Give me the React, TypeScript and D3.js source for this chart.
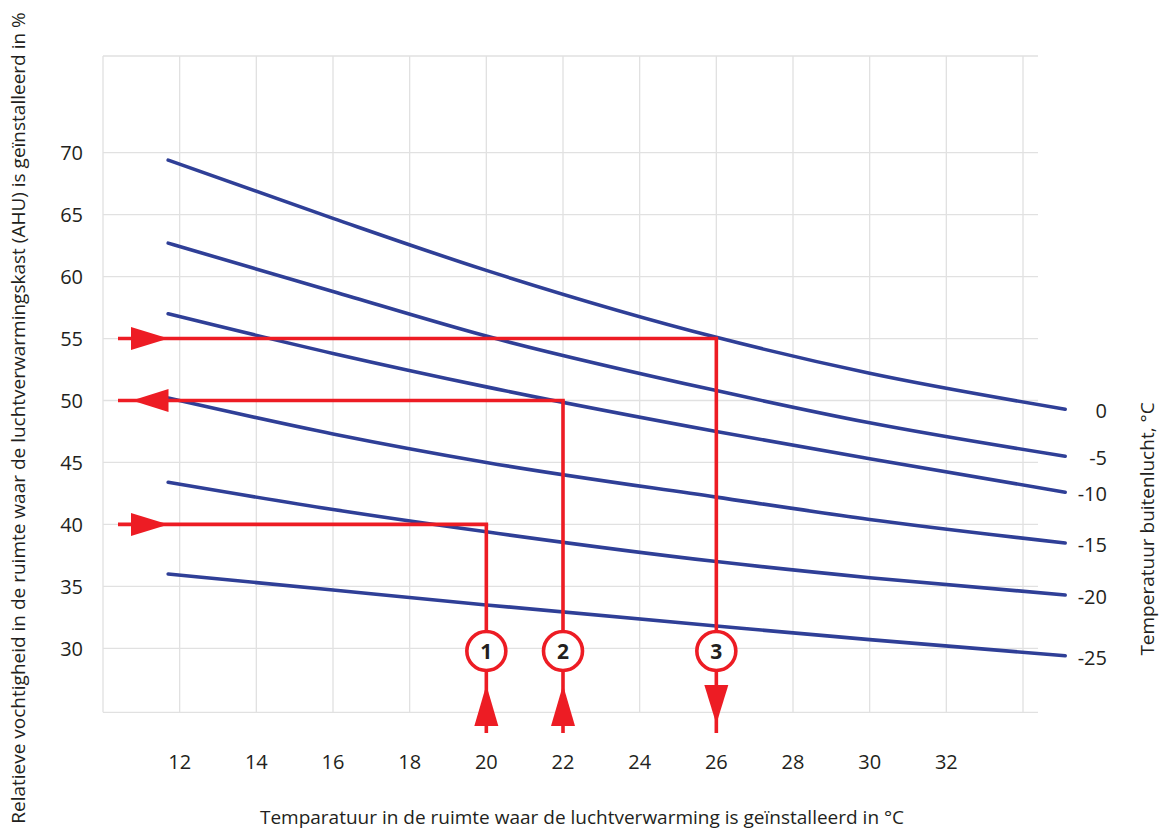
import React from "react";
import * as d3 from "d3";

const W = 1162;
const H = 832;

// Room temperature sample points (°C)
const roomTemps = [11.7, 16, 20, 26, 30, 35.1];
// Outside temperature curves (°C) and their relative humidity values (%)
const outsideTemps = [0, -5, -10, -15, -20, -25];
const rhOut0 = [69.4, 64.7, 60.5, 55.1, 52.2, 49.3];
const rhOutM5 = [62.7, 58.8, 55.2, 50.8, 48.2, 45.5];
const rhOutM10 = [57.0, 53.8, 51.1, 47.5, 45.3, 42.6];
const rhOutM15 = [50.2, 47.3, 45.0, 42.2, 40.4, 38.5];
const rhOutM20 = [43.4, 41.2, 39.4, 37.0, 35.7, 34.3];
const rhOutM25 = [36.0, 34.7, 33.5, 31.8, 30.7, 29.4];
const curves = [rhOut0, rhOutM5, rhOutM10, rhOutM15, rhOutM20, rhOutM25];

const xTicks = [12, 14, 16, 18, 20, 22, 24, 26, 28, 30, 32];
const xGrid = [10, 12, 14, 16, 18, 20, 22, 24, 26, 28, 30, 32, 34];
const yTicks = [30, 35, 40, 45, 50, 55, 60, 65, 70];

// Example routes: room temperature, humidity reached, direction
const routeLabels = ["1", "2", "3"];
const routeRoomTemps = [20, 22, 26];
const routeRH = [40, 50, 55];
const routeUp = [true, true, false];
const horizArrowRight = [true, false, true];

const xLabel = "Temparatuur in de ruimte waar de luchtverwarming is geïnstalleerd in °C";
const yLabel = "Relatieve vochtigheid in de ruimte waar de luchtverwarmingskast (AHU) is geïnstalleerd in %";
const rightLabel = "Temperatuur buitenlucht, °C";

const BLUE = "#2f3f97";
const RED = "#ed1c24";
const GRID = "#e1e1e1";
const TEXT = "#231f20";
const FONT = "'Open Sans', 'Noto Sans', sans-serif";

export default function App() {
  const x = d3.scaleLinear().domain([10, 34]).range([103, 1023]);
  const y = d3.scaleLinear().domain([30, 70]).range([648.3, 152.7]);
  const gridTop = 56;
  const gridBottom = 712.3;
  const gridRight = 1038;

  const line = d3
    .line<number>()
    .x((_, i) => x(roomTemps[i]))
    .y((d) => y(d))
    .curve(d3.curveMonotoneX);

  const circleY = 651;
  const bottomY = 733;
  const lineStartX = 118;

  return (
    <div style={{ position: "absolute", left: 0, top: 0 }}>
      <svg width={W} height={H} style={{ display: "block", background: "#fff" }}>
        {/* grid */}
        <g stroke={GRID} strokeWidth={1.3} fill="none">
          {xGrid.map((v) => (
            <line key={"gx" + v} x1={x(v)} x2={x(v)} y1={gridTop} y2={gridBottom} />
          ))}
          {yTicks.map((v) => (
            <line key={"gy" + v} x1={x(10)} x2={gridRight} y1={y(v)} y2={y(v)} />
          ))}
          <line x1={x(10)} x2={gridRight} y1={gridTop} y2={gridTop} />
          <line x1={x(10)} x2={gridRight} y1={gridBottom} y2={gridBottom} />
        </g>

        {/* y tick labels */}
        <g fontFamily={FONT} fontSize={20} fill={TEXT} textAnchor="end">
          {yTicks.map((v) => (
            <text key={"yt" + v} x={83} y={y(v)} dy="0.36em">
              {v}
            </text>
          ))}
        </g>
        {/* x tick labels */}
        <g fontFamily={FONT} fontSize={20} fill={TEXT} textAnchor="middle">
          {xTicks.map((v) => (
            <text key={"xt" + v} x={x(v)} y={769}>
              {v}
            </text>
          ))}
        </g>

        {/* curves */}
        <g fill="none" stroke={BLUE} strokeWidth={3.6} strokeLinecap="round">
          {curves.map((c, i) => (
            <path key={"c" + i} d={line(c) || ""} />
          ))}
        </g>

        {/* curve labels */}
        <g fontFamily={FONT} fontSize={20} fill={TEXT} textAnchor="end">
          {curves.map((c, i) => (
            <text key={"cl" + i} x={1107} y={y(c[c.length - 1]) + 2} dy="0.36em">
              {outsideTemps[i] === 0 ? "0" : "-" + Math.abs(outsideTemps[i])}
            </text>
          ))}
        </g>

        {/* routes */}
        <g>
          {routeLabels.map((lab, i) => {
            const rx = x(routeRoomTemps[i]);
            const ry = y(routeRH[i]);
            const up = routeUp[i];
            const right = horizArrowRight[i];
            const hHead = right
              ? `M${131},${ry - 11.5}L${168.5},${ry}L${131},${ry + 11.5}Z`
              : `M${168.5},${ry - 11.5}L${132},${ry}L${168.5},${ry + 11.5}Z`;
            const vHead = up
              ? `M${rx - 12},726L${rx},685L${rx + 12},726Z`
              : `M${rx - 12},685L${rx},724L${rx + 12},685Z`;
            return (
              <g key={"r" + i}>
                <line x1={rx} x2={rx} y1={ry} y2={bottomY} stroke={RED} strokeWidth={3.6} />
                <line x1={lineStartX} x2={rx + 1.8} y1={ry} y2={ry} stroke={RED} strokeWidth={3.6} />
                <path d={hHead} fill={RED} />
                <path d={vHead} fill={RED} />
                <circle cx={rx} cy={circleY} r={19.5} fill="#fff" stroke={RED} strokeWidth={3.6} />
                <text
                  x={rx}
                  y={circleY}
                  dy="0.36em"
                  textAnchor="middle"
                  fontFamily={FONT}
                  fontWeight="bold"
                  fontSize={21}
                  fill={TEXT}
                >
                  {lab}
                </text>
              </g>
            );
          })}
        </g>

        {/* axis titles */}
        <text x={582} y={824} textAnchor="middle" fontFamily={FONT} fontSize={19} fill={TEXT}>
          {xLabel}
        </text>
        <text
          transform="translate(25,418) rotate(-90)"
          textAnchor="middle"
          fontFamily={FONT}
          fontSize={19}
          fill={TEXT}
        >
          {yLabel}
        </text>
        <text
          transform="translate(1154,529) rotate(-90)"
          textAnchor="middle"
          fontFamily={FONT}
          fontSize={19}
          fill={TEXT}
        >
          {rightLabel}
        </text>
      </svg>
    </div>
  );
}
